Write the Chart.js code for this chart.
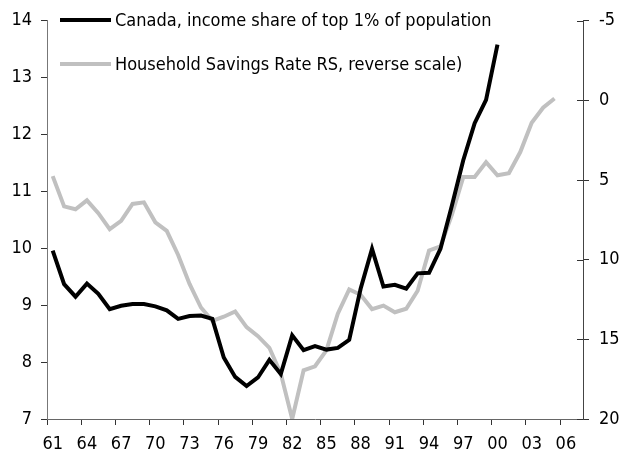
<!DOCTYPE html>
<html>
<head>
<meta charset="utf-8">
<script src="https://cdn.jsdelivr.net/npm/chart.js@4.4.0/dist/chart.umd.min.js"></script>
<style>
    html, body { margin: 0; padding: 0; background: #fff; }
    #wrap { position: relative; width: 619px; height: 458px; }
    #legend { position: absolute; left: 60px; top: 0; color: #000;
              font: 18px 'Liberation Sans Narrow', 'Arial Narrow', 'DejaVu Sans Condensed', sans-serif; }
    .row { position: absolute; left: 0; white-space: nowrap; height: 22px; line-height: 22px; }
    .swatch { position: absolute; left: 0; top: 9px; width: 51px; height: 4px; }
    .lbl { position: absolute; left: 55px; top: 0; }
</style>
</head>
<body>
<div id="wrap">
    <canvas id="chart" width="619" height="458"></canvas>
    <div id="legend"></div>
</div>
<script>
// ── Data ──────────────────────────────────────────────────────
const years = ['61','62','63','64','65','66','67','68','69','70',
               '71','72','73','74','75','76','77','78','79','80',
               '81','82','83','84','85','86','87','88','89','90',
               '91','92','93','94','95','96','97','98','99','00',
               '01','02','03','04','05','06','07'];

// Canada, income share of top 1% (left scale), 1961-2000
const topShare = [9.96, 9.37, 9.15, 9.38, 9.20, 8.93, 8.99, 9.02, 9.02, 8.98,
                  8.91, 8.76, 8.81, 8.82, 8.76, 8.08, 7.74, 7.58, 7.73, 8.04,
                  7.79, 8.47, 8.21, 8.28, 8.22, 8.25, 8.39, 9.29, 9.99, 9.33,
                  9.36, 9.29, 9.56, 9.57, 9.99, 10.75, 11.55, 12.20, 12.61, 13.58];

// Household savings rate (right scale, reversed), 1961-2005
const savings  = [4.75, 6.65, 6.83, 6.27, 7.08, 8.08, 7.56, 6.50, 6.40, 7.65,
                  8.19, 9.70, 11.52, 13.00, 13.84, 13.58, 13.25, 14.23, 14.80, 15.53,
                  17.15, 20.00, 16.94, 16.69, 15.69, 13.39, 11.86, 12.20, 13.10, 12.88,
                  13.30, 13.08, 11.95, 9.42, 9.16, 7.18, 4.81, 4.81, 3.88, 4.70,
                  4.57, 3.24, 1.40, 0.46, -0.12];

const seriesNames  = ['Canada, income share of top 1% of population',
                      'Household Savings Rate RS, reverse scale)'];
const seriesColors = ['#000000', '#c0c0c0'];

const leftTicks  = { min: 7,  max: 14, step: 1 };
const rightTicks = { min: -5, max: 20, step: 5 };

// ── Chart ─────────────────────────────────────────────────────
Chart.defaults.font.family = "'Liberation Sans Narrow', 'Arial Narrow', 'DejaVu Sans Condensed', sans-serif";
Chart.defaults.font.size = 18;
Chart.defaults.color = '#000';

const pad = (arr) => years.map((_, i) => i < arr.length ? arr[i] : null);

// right axis ticks cross the axis line
const crossTicks = {
    id: 'crossTicks',
    afterDraw(chart) {
        const s = chart.scales.y1, c = chart.ctx;
        c.save();
        c.strokeStyle = '#333';
        c.lineWidth = 1;
        s.ticks.forEach(t => {
            const y = Math.round(s.getPixelForValue(t.value)) + 0.5;
            c.beginPath();
            c.moveTo(s.left - 6, y);
            c.lineTo(s.left, y);
            c.stroke();
        });
        c.restore();
    }
};

new Chart(document.getElementById('chart'), {
    type: 'line',
    data: {
        labels: years,
        datasets: [
            { label: seriesNames[0], data: pad(topShare), yAxisID: 'y',
              borderColor: seriesColors[0], borderWidth: 4, pointRadius: 0, tension: 0 },
            { label: seriesNames[1], data: pad(savings), yAxisID: 'y1',
              borderColor: seriesColors[1], borderWidth: 4, pointRadius: 0, tension: 0 },
        ],
    },
    options: {
        responsive: false,
        animation: false,
        devicePixelRatio: 1,
        layout: { padding: { top: 19, left: 0, right: 0, bottom: 0 } },
        plugins: { legend: { display: false }, tooltip: { enabled: false } },
        scales: {
            x: {
                offset: true,
                grid: {
                    offset: true, drawOnChartArea: false, tickLength: 6,
                    tickColor: ctx => ctx.index % 3 === 0 ? '#333' : 'rgba(0,0,0,0)',
                },
                border: { color: '#666', width: 1 },
                ticks: {
                    autoSkip: false, maxRotation: 0, padding: 9,
                    callback: function (v, i) { return i % 3 === 0 ? this.getLabelForValue(v) : ''; },
                },
                afterFit: s => { s.height = 39; },
            },
            y: {
                position: 'left',
                min: leftTicks.min, max: leftTicks.max,
                grid: { drawOnChartArea: false, tickLength: 6, tickColor: '#333' },
                border: { color: '#777', width: 1 },
                ticks: { stepSize: leftTicks.step, padding: 9 },
                afterFit: s => { s.width = 47; },
            },
            y1: {
                position: 'right',
                reverse: true,
                min: rightTicks.min, max: rightTicks.max,
                grid: { drawOnChartArea: false, tickLength: 6, tickColor: '#333' },
                border: { color: '#444', width: 1 },
                ticks: { stepSize: rightTicks.step, padding: 10 },
                afterFit: s => { s.width = 36; },
            },
        },
    },
    plugins: [crossTicks],
});

// ── Legend (sits inside the plot, top left) ───────────────────
const legendTops = [9, 53];
document.getElementById('legend').innerHTML = seriesNames.map((n, i) => `
    <div class="row" style="top:${legendTops[i]}px">
        <span class="swatch" style="background:${seriesColors[i]}"></span>
        <span class="lbl">${n}</span>
    </div>`).join('');
</script>
</body>
</html>
